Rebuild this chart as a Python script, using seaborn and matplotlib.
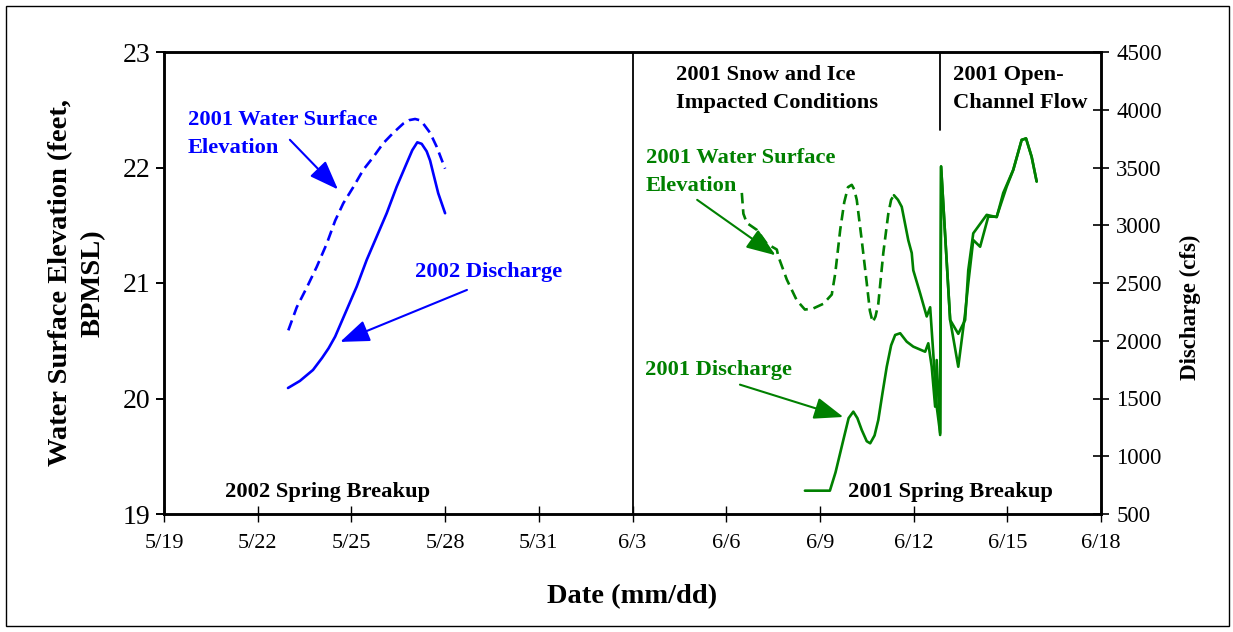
import numpy as np
import pandas as pd
import matplotlib
matplotlib.use("Agg")
import matplotlib.pyplot as plt
import seaborn as sns
from matplotlib.patches import Rectangle

# ---------------- data (x = days after 5/19) ----------------
tick_days = [0, 3, 6, 9, 12, 15, 18, 21, 24, 27, 30]
tick_labels = ["5/19", "5/22", "5/25", "5/28", "5/31", "6/3",
               "6/6", "6/9", "6/12", "6/15", "6/18"]
left_ticks = [19, 20, 21, 22, 23]
right_ticks = [500, 1000, 1500, 2000, 2500, 3000, 3500, 4000, 4500]

# blue dashed: water surface elevation (left axis, ft)
wse_blue_day = [3.98, 4.25, 4.57, 4.89, 5.21, 5.48, 5.74, 6.06, 6.38, 6.70,
                7.02, 7.34, 7.66, 7.85, 8.04, 8.18, 8.30, 8.52, 8.73, 9.00]
wse_blue_ft = [20.59, 20.79, 20.96, 21.14, 21.34, 21.54, 21.69, 21.83, 21.98, 22.09,
               22.21, 22.30, 22.38, 22.41, 22.42, 22.41, 22.38, 22.30, 22.18, 21.99]

# blue solid: 2002 discharge (right axis, cfs)
q_blue_day = [3.97, 4.35, 4.77, 5.06, 5.27, 5.48, 5.85, 6.17, 6.49, 6.81, 7.13,
              7.45, 7.77, 7.95, 8.11, 8.25, 8.41, 8.52, 8.62, 8.78, 9.00]
q_blue_cfs = [1591, 1652, 1747, 1851, 1935, 2036, 2268, 2469, 2700, 2902, 3104,
              3334, 3537, 3650, 3718, 3705, 3640, 3560, 3450, 3277, 3104]

# green: 2001 water surface elevation (left axis, ft)
wse_green_day = [18.50, 18.55, 18.66, 18.98, 19.30, 19.62, 19.67, 19.94, 20.26, 20.52,
                 20.79, 21.11, 21.38, 21.49, 21.65, 21.78, 21.90, 22.02, 22.10, 22.18,
                 22.34, 22.50, 22.60, 22.69, 22.78, 22.87, 23.03, 23.19, 23.28, 23.37,
                 23.50, 23.62, 23.83, 23.94, 23.99, 24.21,
                 24.42, 24.53, 24.63, 24.74, 24.85, 24.88, 25.17, 25.43, 25.65, 25.75,
                 25.91, 26.34, 26.66, 26.87, 27.19, 27.46, 27.60, 27.78, 27.94]
wse_green_ft = [21.78, 21.60, 21.52, 21.46, 21.34, 21.29, 21.23, 21.03, 20.85, 20.77,
                20.78, 20.82, 20.90, 21.08, 21.46, 21.70, 21.83, 21.85, 21.81, 21.72,
                21.37, 21.00, 20.76, 20.66, 20.71, 20.82, 21.26, 21.60, 21.72, 21.76,
                21.72, 21.66, 21.37, 21.26, 21.11, 20.91,
                20.71, 20.79, 20.39, 19.93, 19.70, 22.01, 20.68, 20.56, 20.68, 21.11,
                21.43, 21.59, 21.57, 21.78, 21.98, 22.24, 22.25, 22.09, 21.88]

# green solid: 2001 discharge (right axis, cfs)
q_green_day = [20.52, 21.32, 21.50, 21.75, 21.92, 22.07, 22.20, 22.34, 22.50, 22.61,
               22.75, 22.87, 23.00, 23.14, 23.28, 23.41, 23.57,
               23.78, 23.99, 24.37, 24.47, 24.58, 24.69, 24.74, 24.85, 24.88, 25.17,
               25.43, 25.65, 25.75, 25.91, 26.13, 26.39, 26.66, 26.98, 27.19, 27.46,
               27.60, 27.78, 27.94]
q_green_cfs = [702, 702, 860, 1141, 1330, 1386, 1330, 1227, 1130, 1112,
               1180, 1314, 1540, 1775, 1960, 2050, 2065,
               1992, 1949, 1905, 1978, 1775, 1429, 1833, 1184, 3507, 2180,
               1775, 2238, 2497, 2872, 2814, 3074, 3074, 3334, 3478, 3738,
               3753, 3594, 3378]

BLUE = "#0000FF"
GREEN = "#008000"

# ---------------- style ----------------
sns.set_style("ticks")
plt.rcParams["font.family"] = ["Liberation Serif", "DejaVu Serif"]
plt.rcParams["text.color"] = "black"
plt.rcParams["axes.labelcolor"] = "black"
plt.rcParams["xtick.color"] = "black"
plt.rcParams["ytick.color"] = "black"

fig = plt.figure(figsize=(12.33, 6.32), dpi=100)
ax = fig.add_axes([164 / 1233, 1 - 514 / 632, (1101 - 164) / 1233, (514 - 52) / 632])
ax2 = ax.twinx()

blue_wse = pd.DataFrame({"day": wse_blue_day, "ft": wse_blue_ft})
blue_q = pd.DataFrame({"day": q_blue_day, "cfs": q_blue_cfs})
green_wse = pd.DataFrame({"day": wse_green_day, "ft": wse_green_ft})
green_q = pd.DataFrame({"day": q_green_day, "cfs": q_green_cfs})

lw = 1.9
sns.lineplot(data=blue_wse, x="day", y="ft", ax=ax, color=BLUE, lw=lw,
             linestyle=(0, (4, 2.2)), sort=False, estimator=None)
sns.lineplot(data=green_wse[green_wse["day"] <= 23.4], x="day", y="ft", ax=ax,
             color=GREEN, lw=lw, linestyle=(0, (4, 2.2)), sort=False, estimator=None)
sns.lineplot(data=green_wse[green_wse["day"] >= 23.36], x="day", y="ft", ax=ax,
             color=GREEN, lw=lw, sort=False, estimator=None)
sns.lineplot(data=blue_q, x="day", y="cfs", ax=ax2, color=BLUE, lw=lw,
             sort=False, estimator=None)
sns.lineplot(data=green_q, x="day", y="cfs", ax=ax2, color=GREEN, lw=lw,
             sort=False, estimator=None)

ax.set_xlim(0, 30)
ax.set_ylim(19, 23)
ax2.set_ylim(500, 4500)

ax.set_xticks(tick_days, tick_labels, fontsize=16)
ax.set_yticks(left_ticks, [str(t) for t in left_ticks], fontsize=20)
ax2.set_yticks(right_ticks, [str(t) for t in right_ticks], fontsize=16.5)

ax.tick_params(axis="y", direction="out", length=6, width=1.4, pad=4, color="black")
ax.tick_params(axis="x", direction="inout", length=11, width=1.0, pad=9, color="black")
ax2.tick_params(axis="y", direction="inout", length=12, width=1.2, pad=5, color="black")

for a in (ax, ax2):
    for s in a.spines.values():
        s.set_visible(True)
        s.set_linewidth(1.8)
        s.set_color("black")

ax.set_xlabel("Date (mm/dd)", fontsize=20.5, fontweight="bold", labelpad=22)
ax.set_ylabel("Water Surface Elevation (feet,\nBPMSL)", fontsize=20.5,
              fontweight="bold", labelpad=12, linespacing=1.4)
ax2.set_ylabel("Discharge (cfs)", fontsize=16.5, fontweight="bold")
ax2.yaxis.set_label_coords(1 + (1180 - 1101) / 937, 0.448)

# separators
ax.axvline(15, color="black", lw=1.3)
ax.axvline(24.85, ymin=1 - (130 - 52) / 462, ymax=1, color="black", lw=1.3)

tfs = 16.2
def label(x, y, s, c):
    ax.text(x, y, s, fontsize=tfs, fontweight="bold", color=c, ha="left",
            va="top", linespacing=1.55)

label(0.77, 22.50, "2001 Water Surface\nElevation", BLUE)
label(8.04, 21.18, "2002 Discharge", BLUE)
label(16.39, 22.89, "2001 Snow and Ice\nImpacted Conditions", "black")
label(25.26, 22.89, "2001 Open-\nChannel Flow", "black")
label(15.43, 22.17, "2001 Water Surface\nElevation", GREEN)
label(15.40, 20.33, "2001 Discharge", GREEN)
label(1.95, 19.28, "2002 Spring Breakup", "black")
label(21.90, 19.28, "2001 Spring Breakup", "black")

def arrow(x0, y0, x1, y1, c):
    ax.annotate("", xy=(x1, y1), xytext=(x0, y0),
                arrowprops=dict(arrowstyle="-|>,head_length=1.2,head_width=0.45",
                                mutation_scale=15, lw=1.5, color=c,
                                shrinkA=0, shrinkB=0))

arrow(4.03, 22.24, 5.57, 21.81, BLUE)
arrow(9.70, 20.94, 5.64, 20.49, BLUE)
arrow(17.07, 21.72, 19.58, 21.24, GREEN)
arrow(18.44, 20.12, 21.75, 19.84, GREEN)

fig.patches.append(Rectangle((6 / 1233, 6 / 632), (1229 - 6) / 1233, (626 - 6) / 632,
                             transform=fig.transFigure, fill=False, lw=1.0,
                             ec="black"))

fig.savefig("out.png", dpi=100)
